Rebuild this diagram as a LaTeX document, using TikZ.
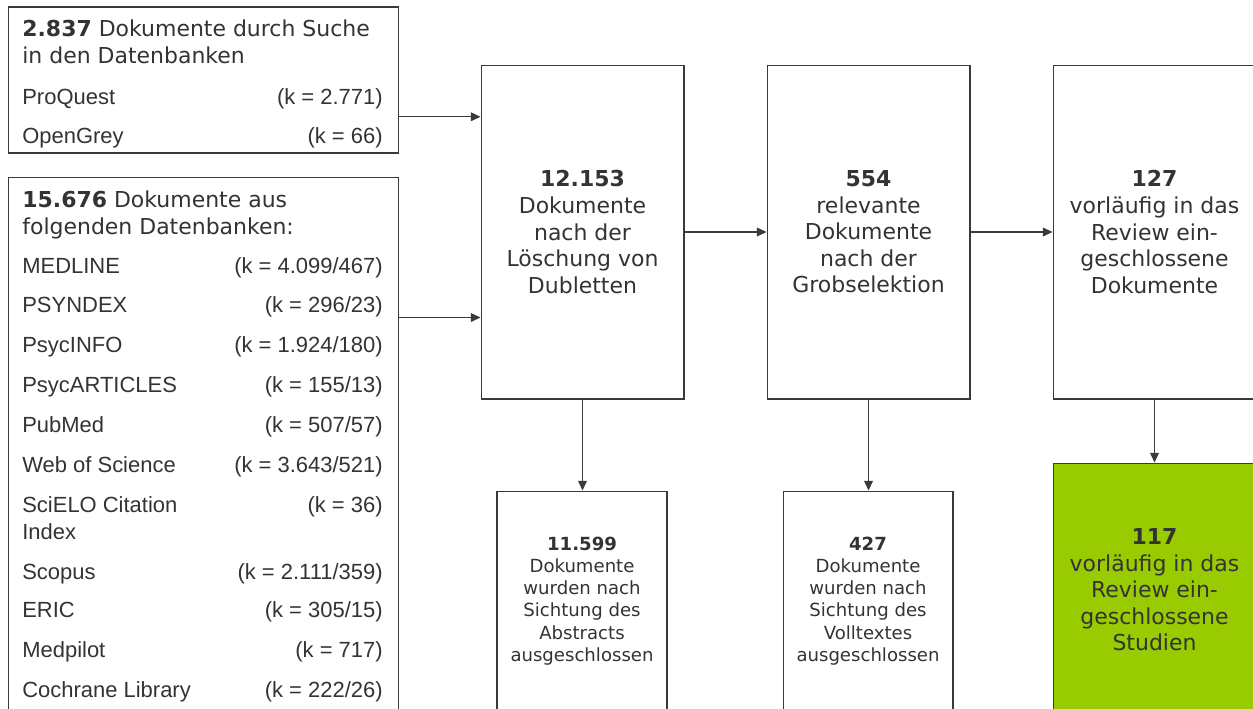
\documentclass[tikz,border=0pt]{standalone}
\usepackage{fontspec}
\setmainfont{DejaVu Sans}
\newfontfamily\listfont{Liberation Sans}
\usetikzlibrary{arrows.meta,calc}

\definecolor{txtgrey}{HTML}{333333}
\definecolor{linegrey}{HTML}{3A3A3A}
\definecolor{inclgreen}{HTML}{99CC00}

\tikzset{
  stage/.style={draw=linegrey, line width=0.6pt, align=center, text=txtgrey,
    font=\fontsize{12.5}{15.1}\selectfont, minimum width=4.06cm,
    minimum height=6.68cm, inner sep=0pt},
  excl/.style={stage, font=\fontsize{10.3}{12.6}\selectfont,
    minimum width=3.4cm, minimum height=4.4cm},
  srcbox/.style={draw=linegrey, line width=0.6pt, minimum width=7.82cm, inner sep=0pt},
  head/.style={text=txtgrey, font=\fontsize{12.5}{15}\selectfont, inner sep=0pt, anchor=base west},
  entry/.style={text=txtgrey, font=\listfont\fontsize{12.5}{15}\selectfont, inner sep=0pt},
  flow/.style={draw=linegrey, line width=0.6pt, -{Triangle[length=5.5pt,width=5pt]}}
}

\begin{document}
\begin{tikzpicture}[x=0.02cm, y=-0.02cm]
\useasboundingbox (0,0) rectangle (1253,708);

% sources
\node[srcbox, minimum height=2.92cm] (srcA) at (203.5,80) {};
\node[head] (hA1) at (22,36) {\textbf{2.837} Dokumente durch Suche};
\node[head] (hA2) at (22,63) {in den Datenbanken};
\node[entry, anchor=base west] (dbA1) at (22,104) {ProQuest};
\node[entry, anchor=base east] (kA1) at (383,104) {(k = 2.771)};
\node[entry, anchor=base west] (dbA2) at (22,143) {OpenGrey};
\node[entry, anchor=base east] (kA2) at (383,143) {(k = 66)};

\node[srcbox, minimum height=11.06cm] (srcB) at (203.5,453.5) {};
\node[head] (hB1) at (22,207) {\textbf{15.676} Dokumente aus};
\node[head] (hB2) at (22,234) {folgenden Datenbanken:};
\foreach \db/\k/\y [count=\i] in {MEDLINE/{4.099/467}/273, PSYNDEX/{296/23}/312,
    PsycINFO/{1.924/180}/352, PsycARTICLES/{155/13}/392, PubMed/{507/57}/432,
    Web of Science/{3.643/521}/472, SciELO Citation/36/512, Scopus/{2.111/359}/579,
    ERIC/{305/15}/617, Medpilot/717/657, Cochrane Library/{222/26}/697}
{
  \node[entry, anchor=base west] (dbB\i) at (22,\y) {\db};
  \node[entry, anchor=base east] (kB\i) at (383,\y) {(k = \k)};
}
\node[entry, anchor=base west] (dbB7b) at (22,539) {Index};

% stages
\node[stage] (dup) at (582.5,232) {\textbf{12.153}\\Dokumente\\nach der\\Löschung von\\Dubletten};
\node[stage] (grob) at (868.5,232) {\textbf{554}\\relevante\\Dokumente\\nach der\\Grobselektion};
\node[stage] (vorl) at (1154.5,232) {\textbf{127}\\vorläufig in das\\Review ein-\\geschlossene\\Dokumente};

\node[excl] (absx) at (582,601) {\textbf{11.599}\\Dokumente\\wurden nach\\Sichtung des\\Abstracts\\ausgeschlossen};
\node[excl] (volx) at (868,601) {\textbf{427}\\Dokumente\\wurden nach\\Sichtung des\\Volltextes\\ausgeschlossen};
\node[stage, fill=inclgreen, minimum height=5.08cm] (incl) at (1154.5,590) {\textbf{117}\\vorläufig in das\\Review ein-\\geschlossene\\Studien};

% arrows
\coordinate (aout) at ($(srcA.south east)!0.25!(srcA.north east)$);
\coordinate (bout) at ([yshift=-2.82cm]srcB.north east);
\draw[flow] (aout) -- (aout -| dup.west);
\draw[flow] (bout) -- (bout -| dup.west);
\draw[flow] (dup) -- (grob);
\draw[flow] (grob) -- (vorl);
\draw[flow] (dup.south) -- (dup.south |- absx.north);
\draw[flow] (grob.south) -- (grob.south |- volx.north);
\draw[flow] (vorl.south) -- (vorl.south |- incl.north);
\end{tikzpicture}
\end{document}
